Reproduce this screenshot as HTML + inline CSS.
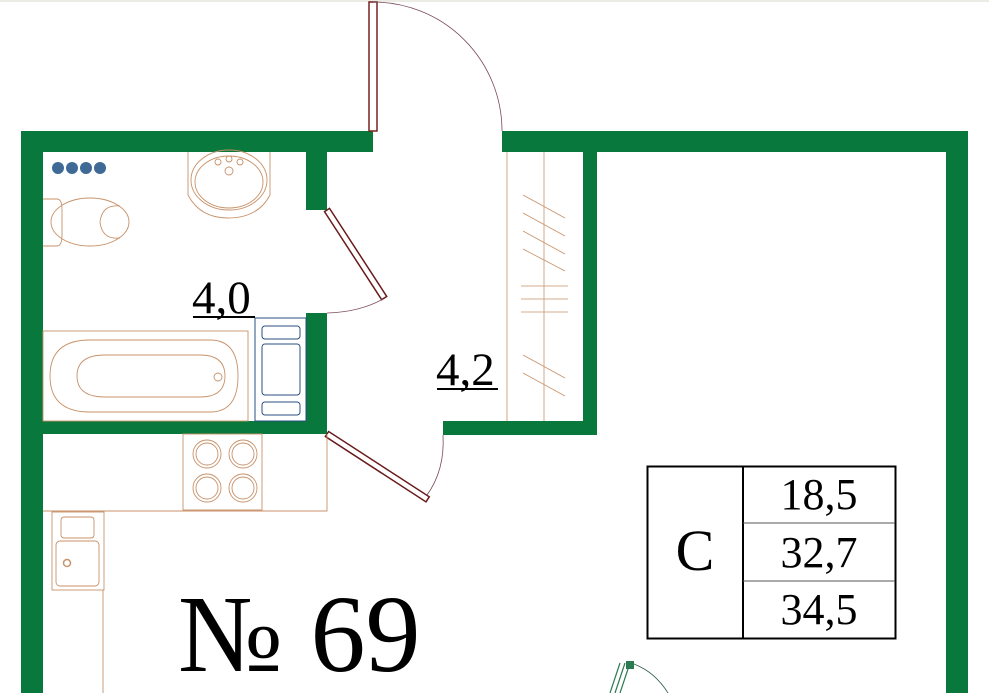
<!DOCTYPE html>
<html><head><meta charset="utf-8"><style>
html,body{margin:0;padding:0;background:#fff;width:989px;height:693px;overflow:hidden}
svg{display:block}
text{font-family:"Liberation Serif",serif;fill:#000}
</style></head><body>
<svg width="989" height="693" viewBox="0 0 989 693" xmlns="http://www.w3.org/2000/svg">
<line x1="0" y1="1" x2="989" y2="1" stroke="#d8d8c8" stroke-width="1"/>
<g fill="#08783c">
<rect x="21" y="131" width="352" height="21"/>
<rect x="21" y="131" width="22" height="562"/>
<rect x="502" y="131" width="466" height="21"/>
<rect x="946" y="131" width="22" height="562"/>
<rect x="306" y="152" width="21" height="58"/>
<rect x="306" y="313" width="21" height="121"/>
<rect x="43" y="421" width="284" height="13"/>
<rect x="583" y="152" width="14" height="283"/>
<rect x="443" y="421" width="154" height="14"/>
</g>
<rect x="369" y="2" width="8" height="129" fill="#fff" stroke="#7a2020" stroke-width="1.5"/>
<path d="M373 2 A129 129 0 0 1 502 131" fill="none" stroke="#7a4a5a" stroke-width="0.8"/>
<g transform="translate(327,210) rotate(-33)"><rect x="-3" y="0" width="6" height="105" fill="#fff" stroke="#6a1a1a" stroke-width="1.5"/></g>
<path d="M383 299 Q360 312 327 313" fill="none" stroke="#7a4a5a" stroke-width="0.8"/>
<g transform="translate(327,434) rotate(-57)"><rect x="-3" y="0" width="6" height="120" fill="#fff" stroke="#6a1a1a" stroke-width="1.5"/></g>
<path d="M427 495 Q445 470 443 435" fill="none" stroke="#7a4a5a" stroke-width="0.8"/>
<g stroke="#c8926a" stroke-width="0.8" fill="none">
<line x1="507" y1="152" x2="507" y2="421"/>
<line x1="544" y1="152" x2="544" y2="421"/>
<line x1="523" y1="195" x2="565" y2="218"/><line x1="523" y1="213" x2="565" y2="236"/>
<line x1="523" y1="231" x2="565" y2="254"/><line x1="523" y1="249" x2="565" y2="271"/>
<line x1="521" y1="286" x2="568" y2="286"/><line x1="521" y1="299" x2="568" y2="299"/><line x1="521" y1="312" x2="568" y2="312"/>
<line x1="523" y1="355" x2="565" y2="378"/><line x1="523" y1="373" x2="565" y2="396"/>
</g>
<g fill="#3f6a96"><circle cx="58" cy="168" r="6"/><circle cx="72" cy="168" r="6"/><circle cx="86" cy="168" r="6"/><circle cx="100" cy="168" r="6"/></g>
<g stroke="#c8926a" stroke-width="0.9" fill="none">
<path d="M188 152 V195 Q200 218 228 218 Q258 218 270 195 V152"/>
<ellipse cx="229" cy="180" rx="38" ry="30"/><ellipse cx="229" cy="182" rx="34" ry="26"/>
<circle cx="218" cy="162" r="3"/><circle cx="229" cy="159" r="3"/><circle cx="240" cy="162" r="3"/><circle cx="229" cy="171" r="4"/>
<path d="M43 199 H57 Q62 199 62 210 V235 Q62 246 57 246 H43"/>
<ellipse cx="90" cy="222" rx="39" ry="24"/><path d="M120 206 Q102 204 100 222 Q102 240 120 238"/>
<rect x="43" y="331" width="205" height="90"/>
<path d="M90 340 H210 Q238 340 238 376 Q238 412 210 412 H90 Q50 412 50 376 Q50 340 90 340 Z"/>
<path d="M105 355 H200 Q225 355 225 376 Q225 397 200 397 H105 Q77 397 77 376 Q77 355 105 355 Z"/>
<circle cx="218" cy="377" r="4"/>
</g>
<g stroke="#2a4e80" stroke-width="1" fill="none">
<rect x="255" y="318" width="51" height="103"/>
<rect x="262" y="326" width="38" height="13" rx="3"/><rect x="262" y="344" width="38" height="51" rx="3"/><rect x="262" y="402" width="38" height="13" rx="3"/>
</g>
<g stroke="#c8926a" stroke-width="0.9" fill="none">
<path d="M43 511 H327 V434"/>
<rect x="183" y="434" width="79" height="76"/>
<circle cx="207" cy="454" r="14"/><circle cx="243" cy="454" r="14"/><circle cx="207" cy="488" r="14"/><circle cx="243" cy="488" r="14"/>
<circle cx="207" cy="454" r="11"/><circle cx="243" cy="454" r="11"/><circle cx="207" cy="488" r="11"/><circle cx="243" cy="488" r="11"/>
<rect x="52" y="512" width="52" height="78"/>
<line x1="103" y1="590" x2="103" y2="693"/>
<rect x="61" y="517" width="33" height="21" rx="3"/>
<rect x="56" y="541" width="43" height="45" rx="4"/>
<circle cx="67" cy="563" r="3.5" stroke-width="1.5"/>
</g>
<path d="M620 663 L610 693 M625 663 L615 693 M630 663 L620 693" stroke="#2c7a52" stroke-width="1.2"/>
<rect x="626" y="661" width="8" height="8" fill="#2c7a52"/>
<path d="M634 664 Q655 672 668 693" stroke="#2c5a40" fill="none" stroke-width="0.8"/>
<text x="192" y="313" font-size="47">4,0</text>
<line x1="193" y1="317" x2="255" y2="317" stroke="#000" stroke-width="2"/>
<text x="436" y="385" font-size="47">4,2</text>
<line x1="437" y1="389" x2="498" y2="389" stroke="#000" stroke-width="2"/>
<text x="178" y="671" font-size="110">№ 69</text>
<rect x="647.5" y="466.5" width="248" height="172" fill="none" stroke="#000" stroke-width="2"/>
<line x1="743" y1="466" x2="743" y2="638" stroke="#000" stroke-width="2"/>
<line x1="743" y1="523" x2="895" y2="523" stroke="#555" stroke-width="1"/>
<line x1="743" y1="581" x2="895" y2="581" stroke="#555" stroke-width="1"/>
<text x="695" y="570" font-size="58" text-anchor="middle">C</text>
<text x="819" y="509" font-size="44" text-anchor="middle">18,5</text>
<text x="819" y="567" font-size="44" text-anchor="middle">32,7</text>
<text x="819" y="624" font-size="44" text-anchor="middle">34,5</text>
</svg>
</body></html>
